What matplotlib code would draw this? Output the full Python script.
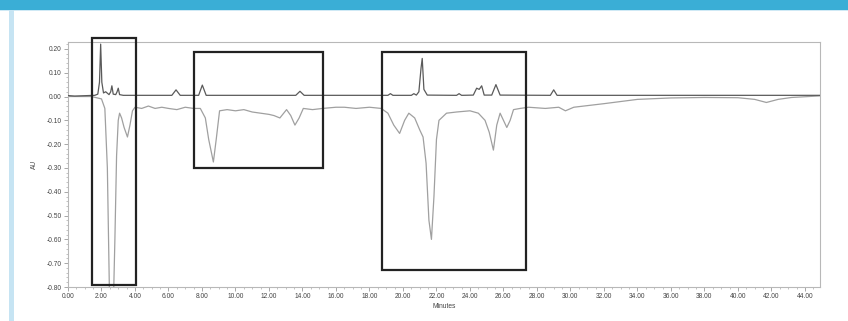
import matplotlib
matplotlib.use("Agg")
import matplotlib.pyplot as plt
from matplotlib.patches import Rectangle
from matplotlib.ticker import MultipleLocator, FormatStrFormatter

plt.rcParams["font.family"] = ["Liberation Sans", "DejaVu Sans"]

# Dark trace (near-zero baseline with small positive peaks)
t_dark = [0.0, 0.4, 1.2, 1.6, 1.78, 1.88, 1.95, 2.02, 2.12, 2.25, 2.45, 2.55, 2.62, 2.7, 2.85,
          2.93, 3.0, 3.08, 3.3, 6.2, 6.45, 6.7, 7.8, 8.02, 8.25, 13.6, 13.85, 14.1, 19.1,
          19.25, 19.4, 20.5, 20.65, 20.8, 20.95, 21.08, 21.15, 21.25, 21.45, 23.2, 23.35,
          23.5, 24.2, 24.4, 24.55, 24.7, 24.85, 25.3, 25.55, 25.8, 28.8, 29.0, 29.2, 45.0]
v_dark = [0.004, 0.002, 0.004, 0.005, 0.01, 0.06, 0.22, 0.06, 0.015, 0.02, 0.008, 0.02, 0.045,
          0.01, 0.008, 0.02, 0.035, 0.008, 0.005, 0.005, 0.028, 0.005, 0.005, 0.048, 0.005,
          0.005, 0.022, 0.005, 0.005, 0.012, 0.005, 0.005, 0.012, 0.006, 0.02, 0.12, 0.16,
          0.03, 0.006, 0.005, 0.012, 0.005, 0.006, 0.035, 0.03, 0.045, 0.006, 0.006, 0.05,
          0.006, 0.005, 0.028, 0.005, 0.005]

# Light trace (negative dips)
t_light = [0.0, 1.4, 1.7, 2.0, 2.2, 2.35, 2.48, 2.58, 2.7, 2.8, 2.9, 3.0, 3.08, 3.2, 3.35,
           3.55, 3.7, 3.85, 4.0, 4.4, 4.8, 5.2, 5.6, 6.0, 6.5, 7.0, 7.5, 7.9, 8.2, 8.4,
           8.68, 8.85, 9.05, 9.5, 10.0, 10.5, 11.0, 11.5, 12.0, 12.3, 12.65, 13.05, 13.3,
           13.55, 13.8, 14.05, 14.6, 15.2, 16.0, 16.5, 17.2, 18.0, 18.7, 19.1, 19.45, 19.8,
           20.1, 20.35, 20.7, 21.0, 21.2, 21.38, 21.55, 21.7, 21.85, 22.0, 22.15, 22.6,
           23.2, 24.0, 24.5, 24.9, 25.15, 25.4, 25.6, 25.8, 26.0, 26.2, 26.4, 26.6, 27.0,
           27.5, 28.5, 29.3, 29.7, 30.2, 32.0, 34.0, 36.0, 38.0, 40.0, 41.0, 41.7, 42.4,
           43.2, 45.0]
v_light = [0.0, 0.0, -0.005, -0.01, -0.05, -0.3, -0.85, -0.9, -0.9, -0.6, -0.25, -0.1,
           -0.07, -0.09, -0.13, -0.17, -0.12, -0.06, -0.045, -0.05, -0.04, -0.05, -0.045,
           -0.05, -0.055, -0.045, -0.05, -0.05, -0.09, -0.18, -0.275, -0.18, -0.06, -0.055,
           -0.06, -0.055, -0.065, -0.07, -0.075, -0.08, -0.09, -0.055, -0.08, -0.12, -0.09,
           -0.05, -0.055, -0.05, -0.045, -0.045, -0.05, -0.045, -0.05, -0.07, -0.12, -0.155,
           -0.1, -0.07, -0.09, -0.14, -0.17, -0.28, -0.52, -0.60, -0.42, -0.18, -0.1, -0.07,
           -0.065, -0.06, -0.07, -0.1, -0.15, -0.225, -0.12, -0.07, -0.1, -0.13, -0.1,
           -0.055, -0.05, -0.045, -0.05, -0.045, -0.06, -0.045, -0.03, -0.012, -0.006,
           -0.004, -0.005, -0.012, -0.025, -0.012, -0.004, 0.003]

# Highlight boxes: (x0, x1, y0, y1) in data units
boxes = [(1.43, 4.06, -0.79, 0.246),
         (7.5, 15.25, -0.30, 0.187),
         (18.75, 27.35, -0.73, 0.187)]

x_ticks = [0, 2, 4, 6, 8, 10, 12, 14, 16, 18, 20, 22, 24, 26, 28, 30, 32, 34, 36, 38, 40, 42, 44]
y_ticks = [0.20, 0.10, 0.00, -0.10, -0.20, -0.30, -0.40, -0.50, -0.60, -0.70, -0.80]

fig = plt.figure(figsize=(8.48, 3.21), dpi=100)
fig.patch.set_facecolor("white")

# decorative page frame
fig.add_artist(Rectangle((0, 1 - 9.5 / 321), 1, 9.5 / 321, transform=fig.transFigure,
                         facecolor="#3aaed6", edgecolor="none"))
fig.add_artist(Rectangle((0, 1 - 11 / 321), 1, 1.5 / 321, transform=fig.transFigure,
                         facecolor="#cfe9f5", edgecolor="none"))
fig.add_artist(Rectangle((9 / 848, 0), 5 / 848, 1 - 10 / 321, transform=fig.transFigure,
                         facecolor="#c6e4f3", edgecolor="none"))

ax = fig.add_axes([68 / 848, 34 / 321, (820 - 68) / 848, (287 - 42) / 321])
ax.plot(t_light, v_light, color="#a0a0a0", lw=0.9, zorder=2)
ax.plot(t_dark, v_dark, color="#5a5a5a", lw=0.9, zorder=3)

ax.set_xlim(0, 44.9)
ax.set_ylim(-0.80, 0.229)

for x0, x1, y0, y1 in boxes:
    ax.add_patch(Rectangle((x0, y0), x1 - x0, y1 - y0, fill=False, edgecolor="#222222",
                           lw=1.6, clip_on=False, zorder=5))

ax.set_xticks(x_ticks)
ax.set_yticks(y_ticks)
ax.xaxis.set_major_formatter(FormatStrFormatter("%.2f"))
ax.yaxis.set_major_formatter(FormatStrFormatter("%.2f"))
ax.xaxis.set_minor_locator(MultipleLocator(0.5))
ax.yaxis.set_minor_locator(MultipleLocator(0.02))
ax.tick_params(axis="both", which="major", labelsize=4.8, length=3, width=0.6,
               color="#999999", labelcolor="#444444", pad=1.5)
ax.tick_params(axis="both", which="minor", length=1.5, width=0.5, color="#aaaaaa")
for s in ax.spines.values():
    s.set_color("#b8b8b8")
    s.set_linewidth(0.8)

ax.set_xlabel("Minutes", fontsize=4.8, color="#444444", labelpad=2)
ax.set_ylabel("AU", fontsize=4.8, color="#444444", labelpad=6)

fig.savefig("out.png", dpi=100, facecolor="white")
